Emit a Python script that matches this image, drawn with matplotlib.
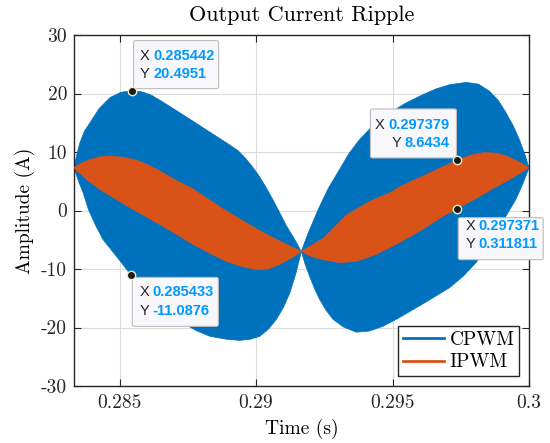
import numpy as np
import matplotlib.pyplot as plt
from matplotlib.lines import Line2D
from matplotlib.patches import FancyBboxPatch
from matplotlib import transforms

plt.rcParams['font.family'] = 'serif'
plt.rcParams['font.serif'] = ['cmr10']
plt.rcParams['axes.formatter.use_mathtext'] = False

# CPWM envelope (A)
cp_up_t = [0.28333, 0.28345, 0.28355, 0.28372, 0.28392, 0.28425, 0.28465, 0.28505,
           0.28544, 0.28580, 0.28613, 0.28650, 0.28684, 0.28758, 0.28831, 0.28904,
           0.28935, 0.28960, 0.28985, 0.29010, 0.29035, 0.29060, 0.29085, 0.29110,
           0.29140, 0.29166,
           0.29189, 0.29228, 0.29265, 0.29306, 0.29340, 0.29379, 0.29430, 0.29489,
           0.29550, 0.29611, 0.29660, 0.29709, 0.29770, 0.29815, 0.29855, 0.29888,
           0.29916, 0.29942, 0.29965, 0.29985, 0.30000]
cp_up = [7.3, 9.8, 11.6, 13.6, 15.0, 17.4, 19.3, 20.2,
         20.5, 20.3, 19.8, 18.8, 17.8, 15.6, 13.4, 11.2,
         10.2, 9.0, 7.6, 6.0, 4.1, 2.0, -0.2, -2.5,
         -4.8, -7.0,
         -4.1, 0.2, 3.8, 7.0, 9.7, 12.1, 14.6, 16.7,
         18.4, 19.8, 20.8, 21.5, 21.9, 21.6, 20.4, 18.8,
         16.7, 14.5, 12.1, 9.6, 7.3]
cp_lo_t = [0.28333, 0.28350, 0.28367, 0.28386, 0.28412, 0.28440, 0.28502, 0.28543,
           0.28623, 0.28720, 0.28780, 0.28831, 0.28890, 0.28941, 0.28980, 0.29014,
           0.29045, 0.29075, 0.29100, 0.29124, 0.29146, 0.29166,
           0.29180, 0.29196, 0.29214, 0.29233, 0.29256, 0.29282, 0.29320, 0.29367,
           0.29416, 0.29465, 0.29514, 0.29610, 0.29709, 0.29760, 0.29806, 0.29845,
           0.29879, 0.29915, 0.29952, 0.29977, 0.30000]
cp_lo = [7.3, 5.0, 3.0, 0.2, -2.5, -5.0, -8.6, -11.1,
         -14.6, -18.9, -20.5, -21.5, -22.0, -22.2, -22.0, -21.5,
         -20.3, -18.6, -16.6, -14.1, -10.8, -7.0,
         -9.2, -11.2, -13.3, -15.2, -17.0, -18.6, -19.9, -20.8,
         -20.6, -19.8, -18.6, -16.0, -13.2, -11.2, -8.9, -6.4,
         -3.8, -1.0, 1.9, 4.5, 7.3]

# IPWM envelope (A)
ip_up_t = [0.28333, 0.28360, 0.28392, 0.28430, 0.28465, 0.28515, 0.28562, 0.28605,
           0.28650, 0.28710, 0.28772, 0.28830, 0.28882, 0.28950, 0.29016, 0.29065,
           0.29113, 0.29166,
           0.29205, 0.29248, 0.29290, 0.29333, 0.29418, 0.29489, 0.29533, 0.29574,
           0.29613, 0.29676, 0.29738, 0.29790, 0.29834, 0.29880, 0.29919, 0.29960,
           0.30000]
ip_up = [7.3, 8.1, 8.7, 9.2, 9.3, 9.1, 8.6, 7.8,
         6.7, 5.1, 3.6, 1.8, 0.2, -1.7, -3.5, -4.7,
         -5.8, -7.0,
         -5.9, -4.7, -2.7, -0.7, 1.6, 3.0, 4.2, 5.1,
         5.9, 7.3, 8.64, 9.5, 9.9, 9.8, 9.3, 8.4,
         7.3]
ip_lo_t = [0.28333, 0.28380, 0.28428, 0.28485, 0.28538, 0.28648, 0.28710, 0.28770,
           0.28830, 0.28892, 0.28950, 0.29002, 0.29045, 0.29087, 0.29130, 0.29166,
           0.29205, 0.29245, 0.29306, 0.29367, 0.29440, 0.29525, 0.29611, 0.29684,
           0.29737, 0.29800, 0.29870, 0.29940, 0.30000]
ip_lo = [7.3, 5.3, 3.6, 2.0, 0.5, -2.4, -4.1, -5.8,
         -7.3, -8.7, -9.6, -10.1, -10.0, -9.2, -8.1, -7.0,
         -7.9, -8.4, -8.9, -8.7, -7.5, -5.5, -3.2, -1.0,
         0.31, 1.9, 3.8, 5.6, 7.3]

series = ['CPWM', 'IPWM']
colors = ['#0072BD', '#D95319']

# data tips: x, y, label texts
tips_x = [0.285442, 0.285433, 0.297379, 0.297371]
tips_y = [20.4951, -11.0876, 8.6434, 0.311811]
tips_xs = ['0.285442', '0.285433', '0.297379', '0.297371']
tips_ys = ['20.4951', '-11.0876', '8.6434', '0.311811']

fig = plt.figure(figsize=(5.5, 4.43), dpi=100)
ax = fig.add_axes([74/550, 1-386/443, 455/550, 351/443])

ax.fill(np.concatenate([cp_up_t, cp_lo_t[::-1]]), np.concatenate([cp_up, cp_lo[::-1]]),
        color=colors[0], lw=0.5, zorder=2)
ax.fill(np.concatenate([ip_up_t, ip_lo_t[::-1]]), np.concatenate([ip_up, ip_lo[::-1]]),
        color=colors[1], lw=0.5, zorder=3)

ax.set_xlim(0.3 - 1/60, 0.3)
ax.set_ylim(-30, 30)
ax.set_xticks([0.285, 0.29, 0.295, 0.3])
ax.set_yticks(np.arange(-30, 31, 10))
ax.xaxis.set_major_formatter(plt.FuncFormatter(lambda v, p: f'{v:g}'))
ax.yaxis.set_major_formatter(plt.FuncFormatter(lambda v, p: f'{v:g}'))
ax.tick_params(direction='in', top=True, right=True, length=5, width=0.8,
               labelsize=14, colors='#262626')
ax.tick_params(axis='x', pad=6)
ax.tick_params(axis='y', pad=5)
for s in ax.spines.values():
    s.set_color('#262626')
    s.set_linewidth(1.0)
ax.grid(True, color='#dcdcdc', lw=0.8)
ax.set_axisbelow(True)

ax.set_title('Output Current Ripple', fontsize=16, pad=10)
ax.set_xlabel('Time (s)', fontsize=14, labelpad=5)
ax.set_ylabel('Amplitude (A)', fontsize=14, labelpad=4)

handles = [Line2D([], [], color=c, lw=2) for c in colors]
leg = ax.legend(handles, series, loc='lower right', fontsize=14, fancybox=False,
                framealpha=1, edgecolor='#262626', handlelength=2.1,
                handletextpad=0.3, labelspacing=0.25, borderpad=0.25,
                borderaxespad=0.5)
leg.get_frame().set_linewidth(1.0)
leg.set_zorder(6)

# box offsets in pixels relative to the tip point: (x0, y0, x1, y1)
boxes = [(2, 2, 87, 50), (1, -51, 87, -2), (-87, 2, -1, 51), (1, -51, 86, -9)]
rows = [(35, 17), (-17, -36), (35, 17), (-17, -35)]
tipfont = ['Liberation Sans', 'DejaVu Sans']
fs = 10.5
for i in range(4):
    px, py = ax.transData.transform((tips_x[i], tips_y[i]))
    T = transforms.Affine2D().translate(px, py)
    x0, y0, x1, y1 = boxes[i]
    ax.add_patch(FancyBboxPatch((x0, y0), x1 - x0, y1 - y0,
                                boxstyle='round,pad=0,rounding_size=2',
                                transform=T, fc='#f8f8fc', ec='#bdbdbd', lw=0.8,
                                zorder=7, clip_on=False))
    ax.plot(tips_x[i], tips_y[i], 'o', ms=6, mfc='#1a1a1a', mec='#f2ecc4', mew=1.0,
            zorder=8, clip_on=False)
    r1, r2 = rows[i]
    if x0 < 0:
        # box left of the point: text is right aligned
        lab_x = [(-73, r1, 'X'), (-56.5, r2, 'Y')]
        val_x, val_ha = -8, 'right'
        lab_ha = 'right'
    else:
        lab_x = [(8, r1, 'X'), (8, r2, 'Y')]
        val_x, val_ha = 21.5, 'left'
        lab_ha = 'left'
    for lx, ly, s in lab_x:
        ax.text(lx, ly, s, transform=T, fontsize=fs, family=tipfont,
                color='#262626', va='center', ha=lab_ha, zorder=9)
    ax.text(val_x, r1, tips_xs[i], transform=T, fontsize=fs, family=tipfont,
            weight='bold', color='#0099ff', va='center', ha=val_ha, zorder=9)
    ax.text(val_x, r2, tips_ys[i], transform=T, fontsize=fs, family=tipfont,
            weight='bold', color='#0099ff', va='center', ha=val_ha, zorder=9)

fig.savefig('out.png', dpi=100)
